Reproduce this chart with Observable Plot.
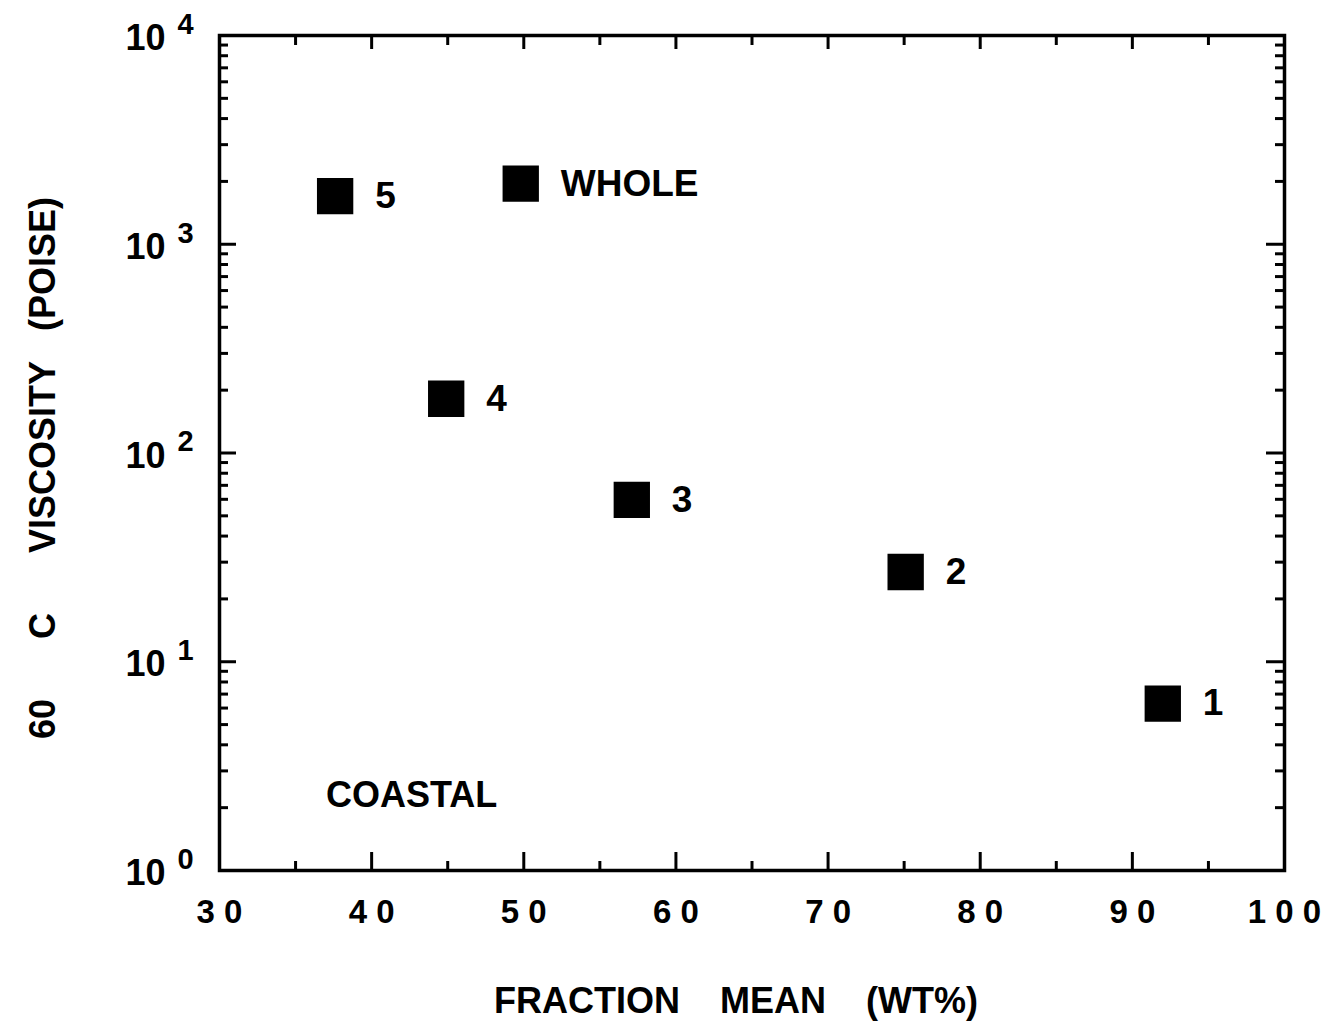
<!DOCTYPE html>
<html><head><meta charset="utf-8">
<script src="https://cdn.jsdelivr.net/npm/d3@7"></script>
<script src="https://cdn.jsdelivr.net/npm/@observablehq/plot@0.6"></script>
<style>
body{margin:0;background:#fff;}
svg text{font-family:"Liberation Sans",Arial,Helvetica,sans-serif;font-weight:bold;}
</style></head><body><div id="chart"></div>
<script>
// data
const samples = ["5", "WHOLE", "4", "3", "2", "1"];
const fractionMean = [37.6, 49.8, 44.9, 57.1, 75.1, 92.0];
const viscosity = [1700, 1950, 182, 59.6, 26.9, 6.3];
const xTicks = [30, 40, 50, 60, 70, 80, 90, 100];
const xMinorTicks = [35, 45, 55, 65, 75, 85, 95];
const yDecades = [1, 10, 100, 1000, 10000];
const yExponents = ["0", "1", "2", "3", "4"];
const yMinorTicks = yDecades.slice(0, -1).flatMap(d => [2,3,4,5,6,7,8,9].map(m => m * d));
const panelLabel = ["COASTAL"];
const panelPos = {x: 37.0, y: 2.3};
const sp = n => "\u00a0".repeat(n);
const xTitle = "FRACTION" + sp(4) + "MEAN" + sp(4) + "(WT%)";
const yTitle = "60" + sp(6) + "C" + sp(6) + "VISCOSITY" + sp(3) + "(POISE)";

const pts = samples.map((s, i) => ({sample: s, frac: fractionMean[i], visc: viscosity[i]}));
const FONT = "Liberation Sans, Arial, sans-serif";
const blank = () => "";

const plot = Plot.plot({
  width: 1331, height: 1035,
  marginLeft: 219, marginRight: 47, marginTop: 35, marginBottom: 165,
  style: {background: "white", color: "black"},
  x: {domain: [30, 100], label: null},
  y: {type: "log", domain: [1, 10000], label: null},
  marks: [
    // inward ticks, all four sides
    Plot.axisX({anchor: "bottom", ticks: xTicks, tickSize: -18, strokeWidth: 3, tickFormat: blank, label: null}),
    Plot.axisX({anchor: "bottom", ticks: xMinorTicks, tickSize: -9, strokeWidth: 3, tickFormat: blank, label: null}),
    Plot.axisX({anchor: "top", ticks: xTicks, tickSize: -13, strokeWidth: 3, tickFormat: blank, label: null}),
    Plot.axisX({anchor: "top", ticks: xMinorTicks, tickSize: -9, strokeWidth: 3, tickFormat: blank, label: null}),
    Plot.axisY({anchor: "left", ticks: yDecades, tickSize: -17, strokeWidth: 3, tickFormat: blank, label: null}),
    Plot.axisY({anchor: "left", ticks: yMinorTicks, tickSize: -9, strokeWidth: 3, tickFormat: blank, label: null}),
    Plot.axisY({anchor: "right", ticks: yDecades, tickSize: -19, strokeWidth: 3, tickFormat: blank, label: null}),
    Plot.axisY({anchor: "right", ticks: yMinorTicks, tickSize: -10, strokeWidth: 3, tickFormat: blank, label: null}),
    Plot.frame({stroke: "black", strokeWidth: 3.5}),
    // x tick labels
    Plot.text(xTicks, {x: d => d, frameAnchor: "bottom", dy: 42, text: d => String(d).split("").join(" "),
      fontSize: 33, fontWeight: "bold", fontFamily: FONT, lineAnchor: "middle"}),
    // y tick labels 10^n
    Plot.text(yDecades, {y: d => d, frameAnchor: "left", dx: -54, dy: 3, text: () => "10",
      textAnchor: "end", fontSize: 36, fontWeight: "bold", fontFamily: FONT, lineAnchor: "middle"}),
    Plot.text(yDecades, {y: d => d, frameAnchor: "left", dx: -42, dy: -11, text: (d, i) => yExponents[i],
      textAnchor: "start", fontSize: 29, fontWeight: "bold", fontFamily: FONT, lineAnchor: "middle"}),
    // points
    Plot.dot(pts, {x: "frac", y: "visc", symbol: "square", r: 20.5, fill: "black", stroke: null}),
    Plot.text(pts, {x: "frac", y: "visc", text: "sample", dx: 40, textAnchor: "start",
      fontSize: 37, fontWeight: "bold", fontFamily: FONT, lineAnchor: "middle"}),
    Plot.text(panelLabel, {x: () => panelPos.x, y: () => panelPos.y, text: d => d, textAnchor: "start",
      fontSize: 36, fontWeight: "bold", fontFamily: FONT, lineAnchor: "middle"}),
    // axis titles
    Plot.text([xTitle], {frameAnchor: "bottom", dx: -16, dy: 131, text: d => d, textAnchor: "middle",
      fontSize: 36, fontWeight: "bold", fontFamily: FONT, lineAnchor: "middle"}),
    Plot.text([yTitle], {frameAnchor: "left", dx: -176, dy: 15, rotate: -90, text: d => d, textAnchor: "middle",
      fontSize: 36, fontWeight: "bold", fontFamily: FONT, lineAnchor: "middle"})
  ]
});
document.getElementById("chart").appendChild(plot);
</script></body></html>
